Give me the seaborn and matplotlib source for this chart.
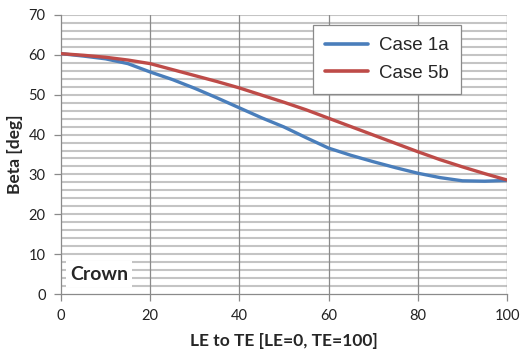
import numpy as np
import pandas as pd
import seaborn as sns
import matplotlib.pyplot as plt

# data
x_pos = [0, 5, 10, 15, 20, 25, 30, 35, 40, 45, 50, 55, 60, 65, 70, 75, 80, 85, 90, 95, 100]
case_1a = [60.3, 59.7, 59.0, 57.8, 55.7, 53.8, 51.6, 49.2, 46.7, 44.2, 41.9, 39.2, 36.6, 34.8, 33.2, 31.7, 30.3, 29.2, 28.4, 28.3, 28.5]
case_5b = [60.3, 59.9, 59.4, 58.7, 57.8, 56.3, 54.8, 53.3, 51.7, 49.9, 48.1, 46.2, 44.1, 42.0, 39.9, 37.8, 35.7, 33.7, 31.9, 30.2, 28.6]
series = ["Case 1a", "Case 5b"]
colors = ["#4a7ebb", "#be4b48"]

df = pd.DataFrame({
    "x": x_pos * 2,
    "beta": case_1a + case_5b,
    "case": [series[0]] * len(x_pos) + [series[1]] * len(x_pos),
})

sns.set_style("white")
plt.rcParams["font.family"] = ["Lato", "DejaVu Sans"]

fig = plt.figure(figsize=(5.26, 3.54), dpi=100)
ax = fig.add_axes([61 / 526, 60 / 354, 446 / 526, 279 / 354])

# excel style grid: light horizontals every 2, darker verticals every 20
for yv in np.arange(2, 71, 2):
    ax.axhline(yv, color="#c4c4c4", lw=1.5, zorder=0)
for xv in np.arange(20, 101, 20):
    ax.axvline(xv, color="#8a8a8a", lw=0.9, zorder=0)

sns.lineplot(data=df, x="x", y="beta", hue="case", palette=colors,
             linewidth=2.4, ax=ax, legend=False, zorder=3)

ax.set_xlim(0, 100)
ax.set_ylim(0, 70)
ax.set_xticks(range(0, 101, 20))
ax.set_yticks(range(0, 71, 10))
ax.tick_params(axis="both", direction="out", length=5, width=0.9, color="#8a8a8a",
               labelsize=10.5, labelcolor="#222222", pad=6)
ax.tick_params(axis="both", which="both", bottom=True, left=True)
for side in ["top", "right"]:
    ax.spines[side].set_visible(False)
for side in ["left", "bottom"]:
    ax.spines[side].set_color("#8a8a8a")
    ax.spines[side].set_linewidth(0.9)

ax.set_xlabel("LE to TE [LE=0, TE=100]", fontsize=12.5, fontweight="bold", labelpad=7)
ax.set_ylabel("Beta [deg]", fontsize=12.5, fontweight="bold", labelpad=4)

handles = [plt.Line2D([], [], color=c, lw=2.6) for c in colors]
leg = ax.legend(handles, series, loc="upper left", bbox_to_anchor=(252 / 446, 1 - 10 / 279),
                frameon=True, fancybox=False, handlelength=2.3,
                borderpad=0.65, labelspacing=0.55, handletextpad=0.55, borderaxespad=0,
                prop={"family": ["Liberation Sans"], "size": 13.5})
leg.get_frame().set_edgecolor("#8a8a8a")
leg.get_frame().set_linewidth(0.9)
leg.get_frame().set_alpha(1)

ax.text(2.0, 5.0, "Crown", fontsize=14, fontweight="bold", va="center", ha="left",
        bbox=dict(facecolor="white", edgecolor="none", pad=3), zorder=4)

fig.savefig("out.png", dpi=100)
